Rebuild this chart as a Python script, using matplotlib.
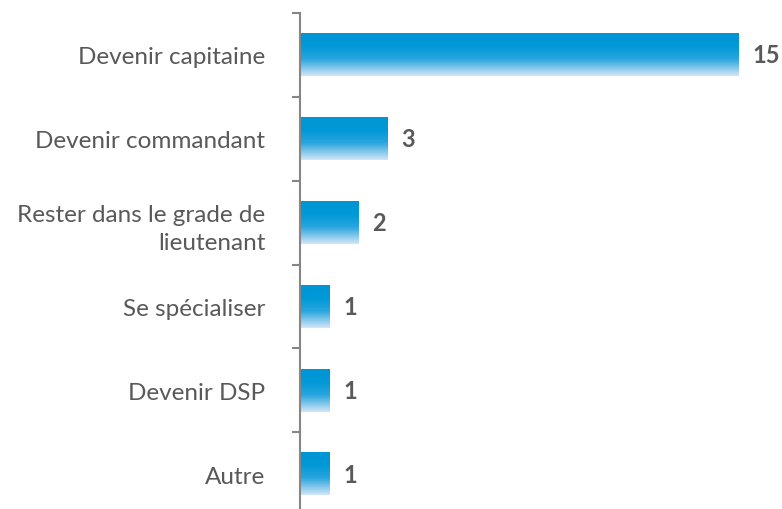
import matplotlib.pyplot as plt
import numpy as np
from matplotlib.colors import LinearSegmentedColormap

categories = ['Devenir capitaine', 'Devenir commandant', 'Rester dans le grade de\nlieutenant',
              'Se spécialiser', 'Devenir DSP', 'Autre']
values = [15, 3, 2, 1, 1, 1]

plt.rcParams['font.family'] = ['Lato', 'DejaVu Sans']

# vertical gradient used to fill each bar (top -> bottom)
grad = LinearSegmentedColormap.from_list('bar_grad', [
    (0.0, (0/255, 150/255, 214/255)),
    (0.3, (0/255, 152/255, 215/255)),
    (0.6, (40/255, 165/255, 222/255)),
    (1.0, (212/255, 230/255, 247/255)),
])

fig = plt.figure(figsize=(7.82, 5.10), dpi=100)
ax = fig.add_axes([300/782, -7/510, 482/782, 503/510])

y = np.arange(len(categories))
h = 0.51
bars = ax.barh(y, values, height=h, color='none')
ax.set_ylim(len(categories) - 0.5, -0.5)
ax.set_xlim(0, 16.5)

g = np.linspace(0, 1, 256).reshape(-1, 1)
for b in bars:
    x0, y0 = b.get_x(), b.get_y()
    w, hh = b.get_width(), b.get_height()
    # y axis inverted: image row 0 drawn at top of bar
    ax.imshow(g, cmap=grad, aspect='auto', extent=(x0, x0 + w, y0 + hh, y0),
              interpolation='bilinear', zorder=2)

for yi, v in zip(y, values):
    ax.annotate(str(v), (v, yi), xytext=(10, 0), textcoords='offset points',
                va='center', ha='left', fontsize=17, fontweight='bold', color='#595959')

ax.set_yticks(y, categories, fontsize=17.5, color='#595959')
ax.set_yticks(np.arange(len(categories) + 1) - 0.5, minor=True)
ax.tick_params(axis='y', which='major', length=0, pad=25)
ax.tick_params(axis='y', which='minor', length=6, width=1.5, color='#868686')
ax.set_xticks([])
for s in ['top', 'right', 'bottom']:
    ax.spines[s].set_visible(False)
ax.spines['left'].set_color('#868686')
ax.spines['left'].set_linewidth(1.5)

for lbl in ax.get_yticklabels():
    lbl.set_multialignment('right')
    lbl.set_linespacing(1.45)

plt.savefig('out.png')
plt.close()
